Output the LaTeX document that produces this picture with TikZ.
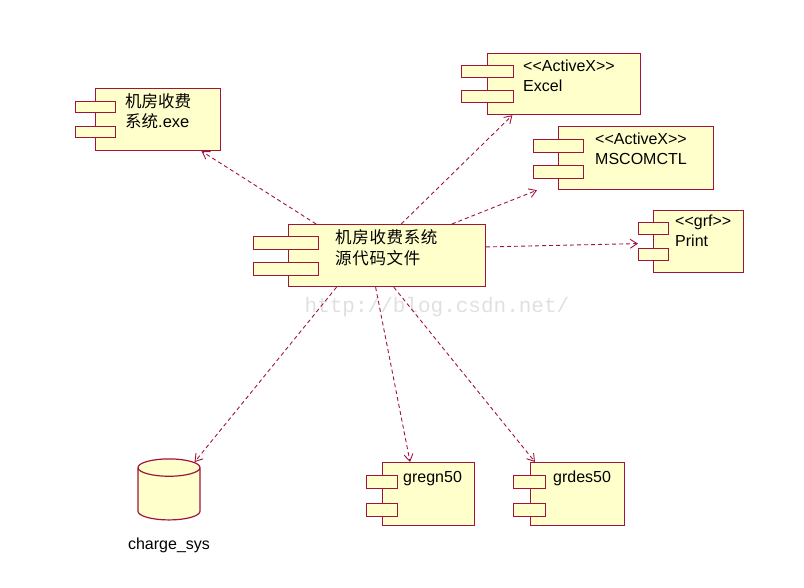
\documentclass[tikz,border=0pt]{standalone}
\usepackage{fontspec}
\setmainfont{Liberation Sans}
\newfontfamily\cjkfont{Noto Sans CJK SC}
\newfontfamily\widecjkfont[LetterSpace=4]{Noto Sans CJK SC}
\newfontfamily\markfont{Liberation Mono}
\usepackage{tikz}
\usetikzlibrary{
    arrows.meta,
    positioning,
    shapes.geometric,
    calc
}
\definecolor{umlred}{RGB}{160,20,60}
\definecolor{umlfill}{RGB}{255,255,204}
\tikzset{
    component/.style={
        rectangle,
        draw=umlred,
        fill=umlfill,
        line width=1.2pt,
        anchor=north west,
        inner sep=0pt
    },
    comptab/.style={
        rectangle,
        draw=umlred,
        fill=umlfill,
        line width=1.2pt,
        anchor=north west,
        inner sep=0pt,
        minimum height=12pt
    },
    complabel/.style={
        anchor=north west,
        align=left,
        inner sep=0pt,
        font=\fontsize{16}{20}\selectfont
    },
    database/.style={
        cylinder,
        shape border rotate=90,
        aspect=2.6,
        draw=umlred,
        fill=umlfill,
        line width=1.2pt,
        minimum width=62pt,
        minimum height=61pt
    },
    dependency/.style={
        draw=umlred,
        line width=0.9pt,
        dash pattern=on 4pt off 3pt,
        -{Straight Barb[length=7pt,width=9pt]}
    }
}

\begin{document}
\begin{tikzpicture}[x=1pt, y=-1pt, node distance=14pt]
\useasboundingbox (0,0) rectangle (804,587);

\node[font=\markfont\fontsize{21}{21}\selectfont, text=black!12] (mark) at (437,307) {http://blog.csdn.net/};

% components
\node[component, minimum width=125pt, minimum height=62pt] (exe) at (95,88) {};
\node[comptab, minimum width=40pt, minimum height=11pt] (exetaba) at (75,101) {};
\node[comptab, minimum width=40pt, minimum height=11pt] (exetabb) at (75,126) {};
\node[complabel, font=\fontsize{16.5}{20}\selectfont] (exetext) at (125,93) {{\cjkfont 机房收费}\\{\cjkfont 系统}.exe};

\node[component, minimum width=197pt, minimum height=62pt] (src) at (288,224) {};
\node[comptab, minimum width=65pt, minimum height=13pt] (srctaba) at (253,236) {};
\node[comptab, minimum width=65pt, minimum height=13pt] (srctabb) at (253,262) {};
\node[complabel, font=\widecjkfont\fontsize{16.5}{21}\selectfont] (srctext) at (335,229) {机房收费系统\\源代码文件};

\node[component, minimum width=153pt, minimum height=61pt] (excel) at (487,53) {};
\node[comptab, minimum width=52pt] (exceltaba) at (461,65) {};
\node[comptab, minimum width=52pt] (exceltabb) at (461,90) {};
\node[complabel] (exceltext) at (523,60) {<{}<ActiveX>{}>\\Excel};

\node[component, minimum width=155pt, minimum height=63pt] (ms) at (558,126) {};
\node[comptab, minimum width=50pt, minimum height=12.5pt] (mstaba) at (533,139) {};
\node[comptab, minimum width=50pt, minimum height=12.5pt] (mstabb) at (533,165) {};
\node[complabel] (mstext) at (595,133) {<{}<ActiveX>{}>\\MSCOMCTL};

\node[component, minimum width=90pt, minimum height=62pt] (print) at (653,210) {};
\node[comptab, minimum width=30pt] (printtaba) at (638,222) {};
\node[comptab, minimum width=30pt] (printtabb) at (638,248) {};
\node[complabel] (printtext) at (675,215) {<{}<grf>{}>\\Print};

\node[component, minimum width=92pt, minimum height=63pt] (gregn) at (382,462) {};
\node[comptab, minimum width=31pt, minimum height=13pt] (gregntaba) at (366,475) {};
\node[comptab, minimum width=31pt, minimum height=13pt] (gregntabb) at (366,503) {};
\node[complabel] (gregntext) at (403,471) {gregn50};

\node[component, minimum width=94pt, minimum height=63pt] (grdes) at (530,462) {};
\node[comptab, minimum width=32pt, minimum height=13pt] (grdestaba) at (513,475) {};
\node[comptab, minimum width=32pt, minimum height=13pt] (grdestabb) at (513,503) {};
\node[complabel] (grdestext) at (553,471) {grdes50};

% database
\node[database] (db) at (169,496) {};
\node[below=of db, font=\fontsize{16}{18}\selectfont] (dbtext) {charge\_sys};

% dependencies
\coordinate (msfoot) at ($(ms.south west)+(-21,0)$);
\coordinate (printfoot) at ($(print.west)+(-15,2)$);
\draw[dependency] (src.156) -- (exe.324);
\draw[dependency] (src.66) -- (excel.211);
\draw[dependency] (src.26) -- (msfoot);
\draw[dependency] (src.5) -- (printfoot);
\draw[dependency] (src.212) -- (db.53);
\draw[dependency] (src.250) -- (gregn.120);
\draw[dependency] (src.282) -- (grdes.143);
\end{tikzpicture}
\end{document}
